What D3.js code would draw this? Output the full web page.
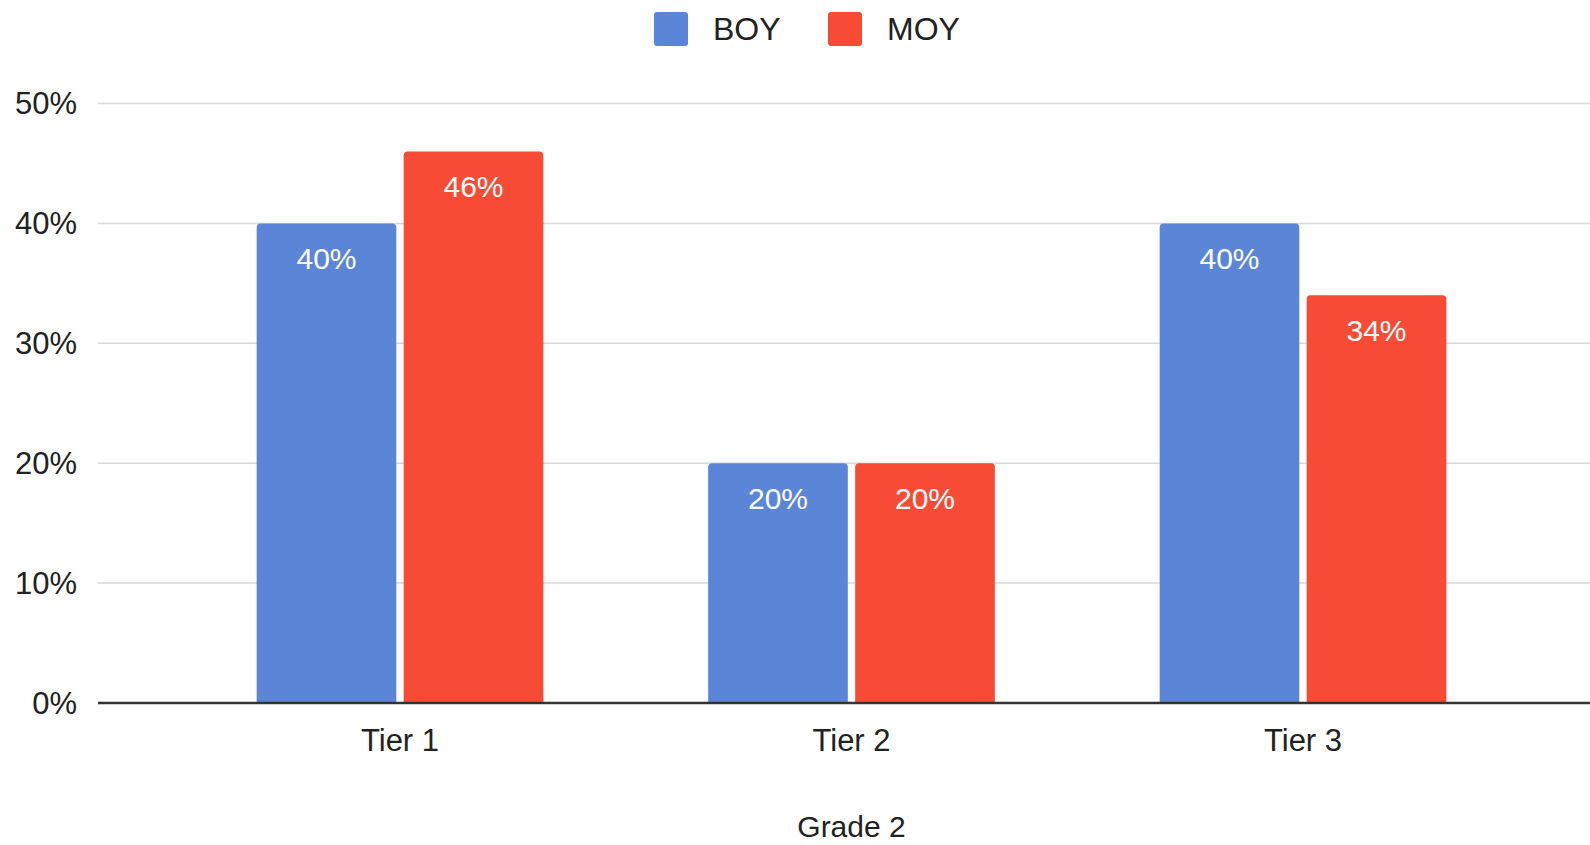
<!DOCTYPE html>
<html>
<head>
<meta charset="utf-8">
<script src="https://cdn.jsdelivr.net/npm/d3@7"></script>
<style>
  html, body { margin: 0; padding: 0; background: #fff; }
  svg { display: block; font-family: "Liberation Sans", Arial, sans-serif; }
</style>
</head>
<body>
<svg id="chart" width="1590" height="845"></svg>
<script>
const categories = ["Tier 1", "Tier 2", "Tier 3"];
const seriesNames = ["BOY", "MOY"];
const boyValues = [40, 20, 40];
const moyValues = [46, 20, 34];
const yTicks = [0, 10, 20, 30, 40, 50];
const xTitle = "Grade 2";
const colors = ["#5b85d7", "#f84b36"];

const svg = d3.select("#chart");
const gridLeft = 98, gridRight = 1590;
const y0 = 703, y50 = 103.5;

const y = d3.scaleLinear().domain([0, 50]).range([y0, y50]);
const x = d3.scaleBand().domain(categories).range([174.25, 1528.75]).paddingInner(0.365).paddingOuter(0.1825);
const xs = d3.scaleBand().domain(seriesNames).range([0, x.bandwidth()]).paddingInner(0.05);

// gridlines
svg.append("g").selectAll("line").data(yTicks.filter(d => d > 0)).join("line")
  .attr("x1", gridLeft).attr("x2", gridRight)
  .attr("y1", d => y(d)).attr("y2", d => y(d))
  .attr("stroke", "#d9d9d9").attr("stroke-width", 1.5);

// y labels
svg.append("g").selectAll("text").data(yTicks).join("text")
  .attr("x", 77).attr("y", d => y(d)).attr("dy", "0.35em")
  .attr("text-anchor", "end").attr("font-size", 31).attr("fill", "#222")
  .text(d => d + "%");

// bars
const data = [];
categories.forEach((c, i) => {
  data.push({cat: c, s: "BOY", v: boyValues[i], color: colors[0]});
  data.push({cat: c, s: "MOY", v: moyValues[i], color: colors[1]});
});
const r = 4;
function barPath(d) {
  const bx = x(d.cat) + xs(d.s), bw = xs.bandwidth();
  const top = y(d.v), bot = y(0);
  return `M${bx},${bot} L${bx},${top + r} Q${bx},${top} ${bx + r},${top} L${bx + bw - r},${top} Q${bx + bw},${top} ${bx + bw},${top + r} L${bx + bw},${bot} Z`;
}
svg.append("g").selectAll("path").data(data).join("path")
  .attr("d", barPath).attr("fill", d => d.color);

svg.append("g").selectAll("text").data(data).join("text")
  .attr("x", d => x(d.cat) + xs(d.s) + xs.bandwidth() / 2)
  .attr("y", d => y(d.v) + 35).attr("dy", "0.35em")
  .attr("text-anchor", "middle").attr("font-size", 30).attr("fill", "#fff")
  .text(d => d.v + "%");

// baseline
svg.append("line").attr("x1", gridLeft).attr("x2", gridRight)
  .attr("y1", y(0)).attr("y2", y(0)).attr("stroke", "#333").attr("stroke-width", 2.5);

// x labels
svg.append("g").selectAll("text").data(categories).join("text")
  .attr("x", d => x(d) + x.bandwidth() / 2).attr("y", 740).attr("dy", "0.35em")
  .attr("text-anchor", "middle").attr("font-size", 31).attr("fill", "#222")
  .text(d => d);

// x title
svg.append("text").attr("x", (x.range()[0] + x.range()[1]) / 2).attr("y", 826).attr("dy", "0.35em")
  .attr("text-anchor", "middle").attr("font-size", 30).attr("fill", "#222").text(xTitle);

// legend
const legendItems = [{name: seriesNames[0], color: colors[0], sx: 654, tx: 713},
                     {name: seriesNames[1], color: colors[1], sx: 828, tx: 887}];
const lg = svg.append("g");
lg.selectAll("rect").data(legendItems).join("rect")
  .attr("x", d => d.sx).attr("y", 12).attr("width", 34).attr("height", 34).attr("rx", 3)
  .attr("fill", d => d.color);
lg.selectAll("text").data(legendItems).join("text")
  .attr("x", d => d.tx).attr("y", 29).attr("dy", "0.35em")
  .attr("font-size", 32).attr("fill", "#222").text(d => d.name);
</script>
</body>
</html>
